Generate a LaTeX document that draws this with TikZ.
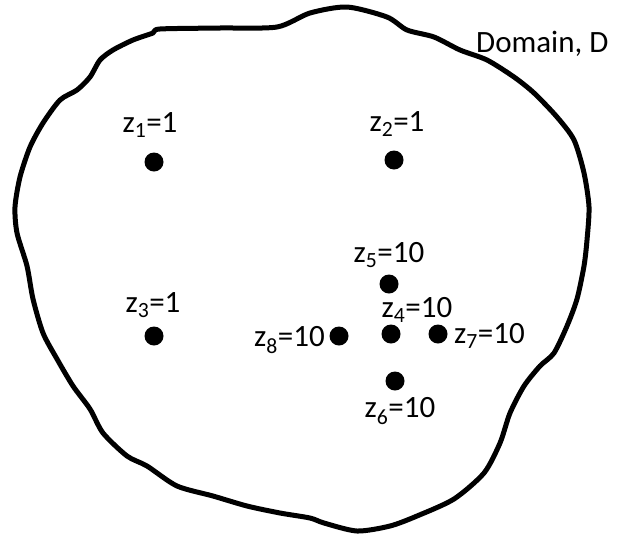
\documentclass[tikz,border=0pt]{standalone}
\usepackage{fontspec}
\setmainfont{Carlito}
\newcommand\zlab[2]{z\textsubscript{#1}=#2}
\begin{document}
\begin{tikzpicture}[x=1pt,y=-1pt,
  dot/.style={circle,fill=black,inner sep=0pt,minimum size=19pt},
  lab/.style={inner sep=0pt,font=\fontsize{31}{36}\selectfont},
  outline/.style={line width=5pt,line join=round}]
\useasboundingbox (0,0) rectangle (617,536);
\draw[outline] plot[smooth cycle,tension=0.45] coordinates {
(160,29) (220,28) (277,27) (310,13) (347,7) (387,17) (407,30) (434,37)
(460,50) (487,60) (514,77) (534,93) (557,117) (574,140) (584,173) (589,207)
(587,240) (584,266) (577,299) (567,326) (554,353) (540,366) (524,386) (510,413)
(500,443) (484,473) (454,499) (417,516) (390,526) (357,531) (324,523) (310,518)
(280,513) (247,506) (213,496) (177,486) (147,466) (127,456) (103,433) (90,409)
(73,386) (57,359) (43,333) (33,299) (27,266) (17,233) (15,207) (20,177)
(30,147) (43,123) (60,100) (77,90) (90,77) (100,60) (113,50) (133,40) (153,33)};
\node[lab,anchor=west] (dom) at (476,44) {Domain, D};
% dots
\node[dot] (d1) at (154,162) {};
\node[dot] (d2) at (394,160) {};
\node[dot] (d3) at (154,336) {};
\node[dot] (d4) at (391,334) {};
\node[dot] (d5) at (389,284) {};
\node[dot] (d6) at (395,381) {};
\node[dot] (d7) at (438,334) {};
\node[dot] (d8) at (339,336) {};
% labels
\node[lab] (l1) at (150,125) {\zlab{1}{1}};
\node[lab] (l2) at (397,124) {\zlab{2}{1}};
\node[lab] (l3) at (153,305) {\zlab{3}{1}};
\node[lab] (l4) at (417,310) {\zlab{4}{10}};
\node[lab] (l5) at (389,255) {\zlab{5}{10}};
\node[lab] (l6) at (400,411) {\zlab{6}{10}};
\node[lab,anchor=west] (l7) at (454,336) {\zlab{7}{10}};
\node[lab,anchor=east] (l8) at (325,340) {\zlab{8}{10}};
\end{tikzpicture}
\end{document}
